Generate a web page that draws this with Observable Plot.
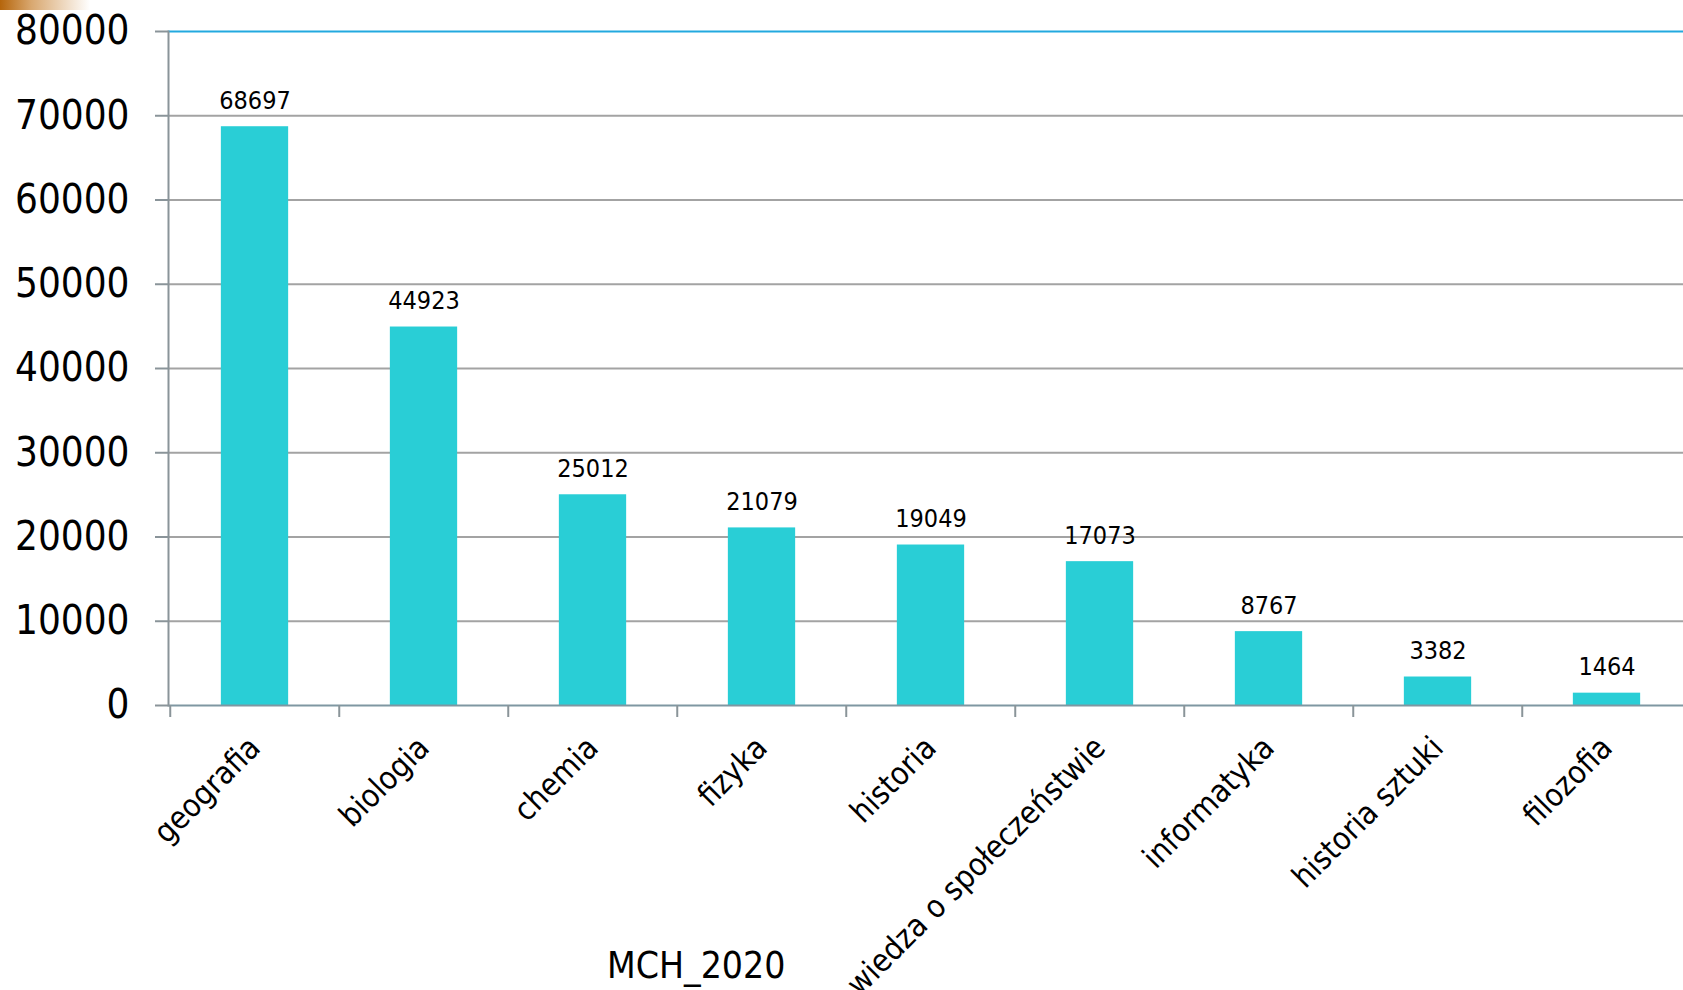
<!DOCTYPE html>
<html>
<head>
<meta charset="utf-8">
<script src="https://cdn.jsdelivr.net/npm/d3@7"></script>
<script src="https://cdn.jsdelivr.net/npm/@observablehq/plot@0.6"></script>
<style>
  html, body { margin: 0; padding: 0; background: #fff; overflow: hidden; }
  #wrap { position: relative; width: 1683px; height: 990px; overflow: hidden; }
  #chart svg { overflow: visible; }
  #deco { position: absolute; left: 0; top: 0; width: 90px; height: 10px;
          background: linear-gradient(to right, #b5650b 0%, #d9a870 35%, #ffffff 100%); }
  #caption { position: absolute; left: 607px; top: 946px; font-family: "DejaVu Sans Condensed", "Liberation Sans", sans-serif;
             font-size: 37px; line-height: 40px; color: #000; }
</style>
</head>
<body>
<div id="wrap">
  <div id="chart"></div>
  <div id="deco"></div>
  <div id="caption">MCH_2020</div>
</div>
<script>
const subjects = ["geografia", "biologia", "chemia", "fizyka", "historia", "wiedza o społeczeństwie", "informatyka", "historia sztuki", "filozofia"];
const counts = [68697, 44923, 25012, 21079, 19049, 17073, 8767, 3382, 1464];
const yTicks = [0, 10000, 20000, 30000, 40000, 50000, 60000, 70000, 80000];

const data = subjects.map((s, i) => ({subject: s, value: counts[i]}));

const W = 1683, H = 940, ML = 168, MR = 0, MT = 31, MB = 235;
const bw = 169.5;
const font = "'DejaVu Sans Condensed', 'Liberation Sans', sans-serif";

const chart = Plot.plot({
  width: W, height: H,
  marginLeft: ML, marginRight: MR, marginTop: MT, marginBottom: MB,
  style: {fontFamily: font, color: "#000", background: "#fff", overflow: "visible"},
  x: {type: "band", domain: subjects, padding: 0, range: [ML, ML + bw * subjects.length], label: null},
  y: {domain: [0, 80000], label: null},
  marks: [
    Plot.ruleY(yTicks.filter(d => d > 0 && d < 80000), {x1: null, x2: null, stroke: "#a3a3a3", strokeWidth: 2}),
    Plot.ruleY([80000], {stroke: "#22a9df", strokeWidth: 2}),
    Plot.barY(data, {x: "subject", y: "value", fill: "#29ced6", insetLeft: bw * 0.3, insetRight: bw * 0.3}),
    Plot.text(data, {x: "subject", y: "value", text: d => String(d.value), dy: -18, lineAnchor: "bottom", fontSize: 25, fill: "#000"}),
    Plot.ruleY([0], {stroke: "#7f97a2", strokeWidth: 2}),
    Plot.frame({anchor: "left", stroke: "#8a9499", strokeWidth: 2}),
    Plot.axisY({ticks: yTicks, tickFormat: d => String(d), tickSize: 13, tickPadding: 26, fontSize: 40, stroke: "#8a9499", strokeWidth: 2, strokeOpacity: 1, label: null}),
    Plot.axisX({ticks: subjects, tickFormat: () => "", tickSize: 12, dx: -bw / 2, stroke: "#8a9499", strokeWidth: 2, strokeOpacity: 1, label: null}),
    Plot.axisX({ticks: subjects, tickSize: 0, tickPadding: 37, tickRotate: -45, fontSize: 31.5, label: null, fill: "#000"})
  ]
});
document.getElementById("chart").appendChild(chart);
</script>
</body>
</html>
